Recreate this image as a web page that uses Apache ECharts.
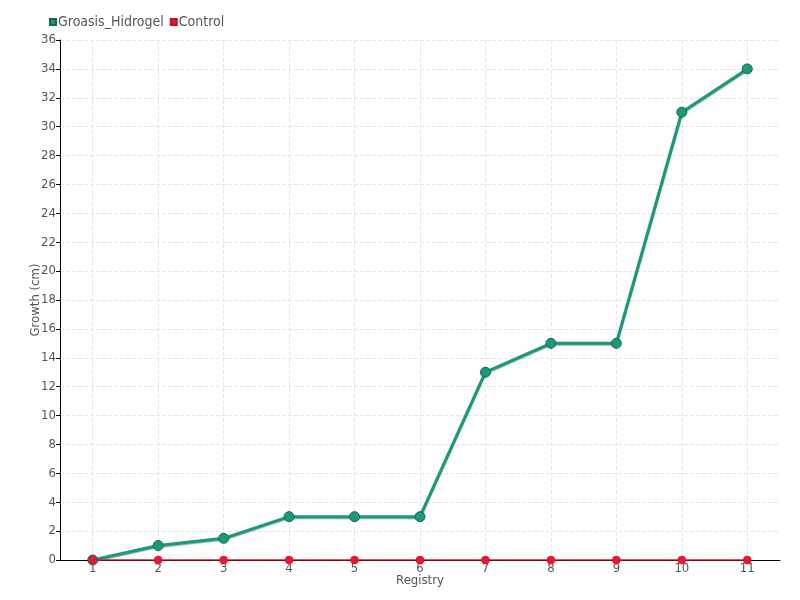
<!DOCTYPE html>
<html><head><meta charset="utf-8">
<script src="https://cdn.jsdelivr.net/npm/echarts@6/dist/echarts.min.js"></script>
<style>html,body{margin:0;padding:0;background:#fff}#c{width:800px;height:600px}</style>
</head><body><div id="c"></div>
<script>
const categories = ['1','2','3','4','5','6','7','8','9','10','11'];
const groasis = [0, 1, 1.5, 3, 3, 3, 13, 15, 15, 31, 34];
const control = [0, 0, 0, 0, 0, 0, 0, 0, 0, 0, 0];
const FONT = '"DejaVu Sans Condensed", "Liberation Sans Narrow", sans-serif';
const chart = echarts.init(document.getElementById('c'));
chart.setOption({
  animation: false,
  textStyle: {fontFamily: FONT},
  legend: {
    left: 44, top: 10, itemWidth: 6, itemHeight: 6, itemGap: 6,
    icon: 'rect',
    textStyle: {fontFamily: FONT, fontSize: 14, color: '#555', padding: [0,0,0,-3]},
    data: ['Groasis_Hidrogel', 'Control']
  },
  grid: {left: 60, right: 20, top: 40, bottom: 40},
  xAxis: {
    type: 'category', data: categories, boundaryGap: true,
    name: 'Registry', nameLocation: 'middle', nameGap: 14, nameMoveOverlap: false,
    nameTextStyle: {fontFamily: FONT, fontSize: 13, color: '#555'},
    axisLine: {lineStyle: {color: '#000'}},
    axisTick: {show: false},
    axisLabel: {fontFamily: FONT, fontSize: 13, color: '#555', margin: 2},
    splitLine: {show: true, alignWithLabel: true, lineStyle: {type: 'dashed', color: '#e6e6e6'}}
  },
  yAxis: {
    type: 'value', min: 0, max: 36, interval: 2,
    name: 'Growth (cm)', nameLocation: 'middle', nameGap: 18, nameMoveOverlap: false,
    nameTextStyle: {fontFamily: FONT, fontSize: 13, color: '#555'},
    axisLine: {show: true, lineStyle: {color: '#000'}},
    axisTick: {show: true, length: 4, lineStyle: {color: '#000'}},
    axisLabel: {fontFamily: FONT, fontSize: 13, color: '#555', margin: 4},
    splitLine: {show: true, lineStyle: {type: 'dashed', color: '#e6e6e6'}}
  },
  series: [
    {
      name: 'Groasis_Hidrogel', type: 'line', data: groasis,
      symbol: 'circle', symbolSize: 10,
      lineStyle: {width: 3, color: '#1a9a7a', shadowColor: 'rgba(20,90,70,0.5)', shadowBlur: 1, shadowOffsetY: 1},
      itemStyle: {color: '#1a9a7a', borderColor: '#17664f', borderWidth: 1}
    },
    {
      name: 'Control', type: 'line', data: control,
      symbol: 'circle', symbolSize: 8,
      lineStyle: {width: 1.5, color: '#e0102a'},
      itemStyle: {color: '#ee1530', borderColor: '#cc0f25', borderWidth: 0.5}
    }
  ]
});
</script></body></html>
